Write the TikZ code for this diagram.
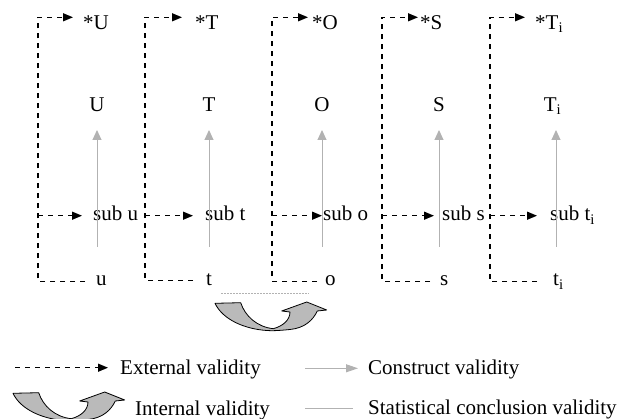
\documentclass[tikz,border=0pt]{standalone}
\usepackage{fontspec}
\setmainfont{Liberation Serif}
\usetikzlibrary{arrows.meta}
\begin{document}
\begin{tikzpicture}[x=1pt,y=-1pt,
  lab/.style={inner sep=0pt, anchor=base west, font=\fontsize{21}{25}\selectfont},
  mid/.style={inner sep=0pt, anchor=base, font=\fontsize{21}{25}\selectfont},
  ext/.style={line width=1.3pt, dash pattern=on 5pt off 5pt, -{Triangle[length=10pt,width=8pt]}},
  con/.style={black!30, line width=1pt, -{Triangle[length=10pt,width=9pt]}},
  stat/.style={black!30, line width=1pt},
  uturn/.pic={
    \draw[fill=black!27, line width=0.8pt, line join=round]
      (0,1.3) -- (25.7,0.7) .. controls (30,14) and (42,25) .. (58.3,26.7)
      .. controls (68,24) and (75,18) .. (75,10) -- (66.7,9) -- (91.7,0)
      -- (111.7,8) -- (102.3,9) .. controls (98,18) and (90,26) .. (75,27.5)
      .. controls (65,28.5) and (57,29) .. (51.7,28.5)
      .. controls (30,27) and (8,18) .. (0,1.3) -- cycle;
  }
]
\useasboundingbox (0,0) rectangle (631,419);

% ---------- column 1 ----------
\node[lab] (s1) at (83,29.5) {*U};
\node[mid] (m1) at (97,111.7) {U};
\node[lab] (u1) at (93,221) {sub u};
\node[lab] (b1) at (96,286) {u};
\coordinate (k1) at (38,17.3);
\coordinate (j1) at (38,215.7);
\coordinate (g1) at (97,247);
% ---------- column 2 ----------
\node[lab] (s2) at (195,29.5) {*T};
\node[mid] (m2) at (209,111.7) {T};
\node[lab] (u2) at (205,221) {sub t};
\node[lab] (b2) at (206,286) {t};
\coordinate (k2) at (145,17.3);
\coordinate (j2) at (145,215.7);
\coordinate (g2) at (209,247);
% ---------- column 3 ----------
\node[lab] (s3) at (312,29.5) {*O};
\node[mid] (m3) at (322,111.7) {O};
\node[lab] (u3) at (323,221) {sub o};
\node[lab] (b3) at (325,286) {o};
\coordinate (k3) at (272,17.3);
\coordinate (j3) at (272,215.7);
\coordinate (g3) at (322,247);
% ---------- column 4 ----------
\node[lab] (s4) at (420,29.5) {*S};
\node[mid] (m4) at (439,111.7) {S};
\node[lab] (u4) at (442,221) {sub s};
\node[lab] (b4) at (440,286) {s};
\coordinate (k4) at (382,17.3);
\coordinate (j4) at (382,215.7);
\coordinate (g4) at (439,247);
% ---------- column 5 ----------
\node[lab] (s5) at (535,29.5) {*T\textsubscript{i}};
\node[mid] (m5) at (552.5,111.7) {T\textsubscript{i}};
\node[lab] (u5) at (550,221) {sub t\textsubscript{i}};
\node[lab] (b5) at (553,286) {t\textsubscript{i}};
\coordinate (k5) at (490,17.3);
\coordinate (j5) at (490,215.7);
\coordinate (g5) at (556,247);

% construct validity arrows
\foreach \i in {1,...,5} {
  \draw[con, shorten >=18.3pt] (g\i) -- (g\i |- m\i.base);
}

% external validity connectors
\draw[ext, shorten <=11pt, shorten >=10pt] (b1.west) -| (k1) -- (s1.west |- k1);
\draw[ext, shorten >=11pt] (j1) -- (u1.west |- j1);
\draw[ext, shorten <=13pt, shorten >=13pt] (b2.west) -| (k2) -- (s2.west |- k2);
\draw[ext, shorten >=12pt] (j2) -- (u2.west |- j2);
\draw[ext, shorten <=8pt, shorten >=4pt] (b3.west) -| (k3) -- (s3.west |- k3);
\draw[ext, shorten >=1pt] (j3) -- (u3.west |- j3);
\draw[ext, shorten <=10pt, shorten >=2pt] (b4.west) -| (k4) -- (s4.west |- k4);
\draw[ext, shorten >=8pt] (j4) -- (u4.west |- j4);
\draw[ext, shorten <=16pt, shorten >=10pt] (b5.west) -| (k5) -- (s5.west |- k5);
\draw[ext, shorten >=13pt] (j5) -- (u5.west |- j5);

% internal validity between t and o
\coordinate (d1) at (221,293);
\coordinate (d2) at (309,293);
\draw[black!30, line width=0.8pt, dash pattern=on 1.5pt off 1.5pt] (d1) -- (d2);
\pic at (215,302) {uturn};

% ---------- legend ----------
\coordinate (lx) at (15,367.7);
\node[lab] (l1) at (120,374.3) {External validity};
\draw[ext, shorten >=12pt] (lx) -- (l1.west |- lx);

\pic at (13,392) {uturn};
\node[lab] (l3) at (135,415) {Internal validity};

\coordinate (lc) at (305,368.3);
\node[lab] (l2) at (368,374.3) {Construct validity};
\draw[con, -{Triangle[length=12pt,width=8pt]}, shorten >=10pt] (lc) -- (l2.west |- lc);

\coordinate (ls) at (305,408.3);
\node[lab] (l4) at (368,414.5) {Statistical conclusion validity};
\draw[stat, shorten >=15pt] (ls) -- (l4.west |- ls);
\end{tikzpicture}
\end{document}
